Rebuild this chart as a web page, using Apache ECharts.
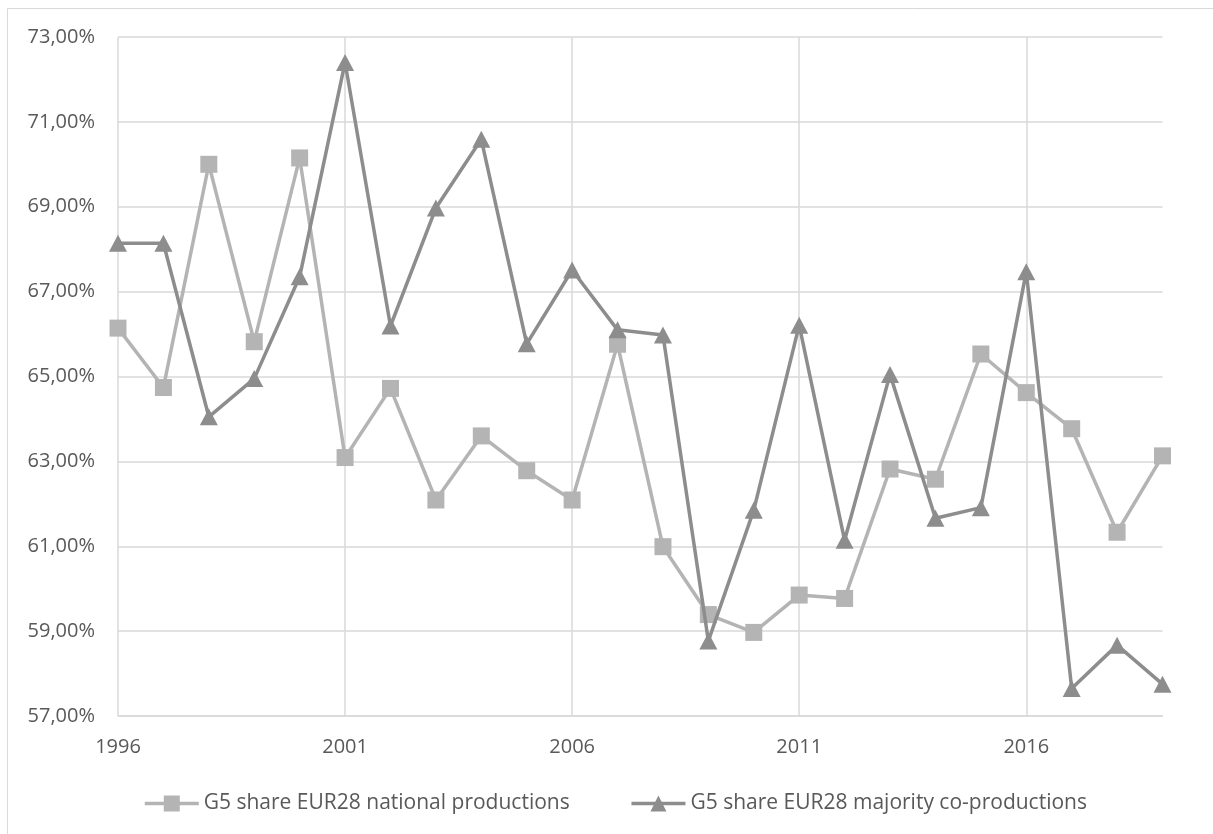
<!DOCTYPE html>
<html>
<head>
<meta charset="utf-8">
<script src="https://cdn.jsdelivr.net/npm/echarts@6/dist/echarts.min.js"></script>
<style>
html,body{margin:0;padding:0;background:#fff;}
#chart{width:1213px;height:834px;}
</style>
</head>
<body>
<div id="chart"></div>
<script>
const years = ['1996','1997','1998','1999','2000','2001','2002','2003','2004','2005','2006','2007','2008','2009','2010','2011','2012','2013','2014','2015','2016','2017','2018','2019'];
const nationalName = 'G5 share EUR28 national productions';
const majorityName = 'G5 share EUR28 majority co-productions';
const national = [66.14,64.74,70.00,65.82,70.15,63.09,64.72,62.09,63.60,62.78,62.09,65.76,60.99,59.39,58.97,59.85,59.77,62.82,62.58,65.53,64.62,63.77,61.33,63.13];
const majority = [68.14,68.14,64.05,64.95,67.35,72.40,66.19,68.97,70.59,65.77,67.51,66.10,65.98,58.77,61.85,66.21,61.14,65.05,61.66,61.91,67.47,57.65,58.67,57.75];
const yMin = 57, yMax = 73, yStep = 2;

const FONT = 'Open Sans';
const TXT = '#595959';
const GRID = '#d9d9d9';
const C_NAT = '#b4b4b4';
const C_MAJ = '#8d8d8d';

const chart = echarts.init(document.getElementById('chart'), null, {renderer:'canvas'});
chart.setOption({
  animation: false,
  backgroundColor: '#ffffff',
  graphic: [{
    type: 'rect',
    shape: {x: 7.5, y: 8.5, width: 1400, height: 1000},
    style: {fill: 'none', stroke: GRID, lineWidth: 1},
    silent: true, z: -10
  }],
  grid: {left: 118, right: 50.5, top: 37, bottom: 118, containLabel: false},
  legend: {
    left: 143, top: 793, padding: 0,
    itemWidth: 54, itemHeight: 20, itemGap: 60,
    lineStyle: {width: 3.5},
    textStyle: {fontFamily: FONT, fontSize: 21, color: TXT},
    data: [nationalName, majorityName]
  },
  xAxis: {
    type: 'category', data: years, boundaryGap: false,
    axisLine: {lineStyle: {color: GRID, width: 1.5}},
    axisTick: {show: false},
    axisLabel: {interval: 4, margin: 21, fontFamily: FONT, fontSize: 20, color: TXT},
    splitLine: {show: true, interval: 4, lineStyle: {color: GRID, width: 1.5}}
  },
  yAxis: {
    type: 'value', min: yMin, max: yMax, interval: yStep,
    axisLine: {show: false}, axisTick: {show: false},
    axisLabel: {margin: 23, fontFamily: FONT, fontSize: 20, color: TXT,
      formatter: v => v.toFixed(2).replace('.', ',') + '%'},
    splitLine: {lineStyle: {color: GRID, width: 1.5}}
  },
  series: [
    {name: nationalName, type: 'line', data: national,
     symbol: 'rect', symbolSize: 17, showAllSymbol: true,
     lineStyle: {color: C_NAT, width: 3.5},
     itemStyle: {color: C_NAT}, z: 2},
    {name: majorityName, type: 'line', data: majority,
     symbol: 'triangle', symbolSize: [18, 17], showAllSymbol: true,
     lineStyle: {color: C_MAJ, width: 3.5},
     itemStyle: {color: C_MAJ}, z: 3}
  ]
});
</script>
</body>
</html>
